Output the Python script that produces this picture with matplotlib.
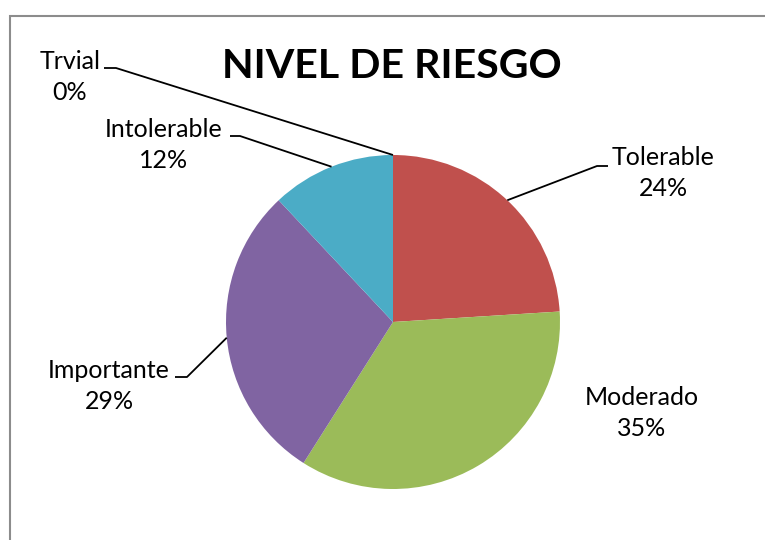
import numpy as np
import matplotlib
matplotlib.use("Agg")
import matplotlib.pyplot as plt
from matplotlib.patches import Rectangle

categories = ["Trvial", "Tolerable", "Moderado", "Importante", "Intolerable"]
values = [0, 24, 35, 29, 12]
colors = ["#4F81BD", "#C0504D", "#9BBB59", "#8064A2", "#4BACC6"]
title = "NIVEL DE RIESGO"

W, H = 765, 540
fig = plt.figure(figsize=(W / 100, H / 100), dpi=100)
ax = fig.add_axes([0, 0, 1, 1])

cx, cy, r = 393, H - 322, 167
wedges, _ = ax.pie(values, colors=colors, startangle=90, counterclock=False,
                   center=(cx, cy), radius=r, wedgeprops=dict(linewidth=0))
ax.set_xlim(0, W)
ax.set_ylim(0, H)
ax.set_aspect("equal")
ax.axis("off")

# chart border
ax.add_patch(Rectangle((10.5, -20), W + 20, H - 15 + 20 - 0.5, fill=False,
                       edgecolor="#8c8c8c", linewidth=1.5, clip_on=False))

font = "Lato"
ax.text(392, H - 67, title, ha="center", va="center", fontsize=29.6,
        fontweight="bold", family=font)

# label positions (text center, elbow start, elbow end) in pixel coords
labels = {
    "Trvial": ((70, 77), (104, 68), (116, 68)),
    "Tolerable": ((663, 173), (608, 166), (597, 166)),
    "Moderado": ((642, 413), None, None),
    "Importante": ((109, 386), (175, 377), (187, 377)),
    "Intolerable": ((164, 145), (230, 136), (240, 136)),
}

for i, (cat, val) in enumerate(zip(categories, values)):
    (tx, ty), p0, p1 = labels[cat]
    ax.text(tx, H - ty, f"{cat}\n{val}%", ha="center", va="center",
            fontsize=18, family=font, linespacing=1.42)
    if p0 is not None:
        w = wedges[i]
        mid = np.deg2rad((w.theta1 + w.theta2) / 2)
        ex, ey = cx + r * np.cos(mid), cy + r * np.sin(mid)
        ax.plot([p0[0], p1[0], ex], [H - p0[1], H - p1[1], ey], color="black",
                linewidth=1.3, solid_capstyle="butt")

fig.savefig("out.png", dpi=100)
